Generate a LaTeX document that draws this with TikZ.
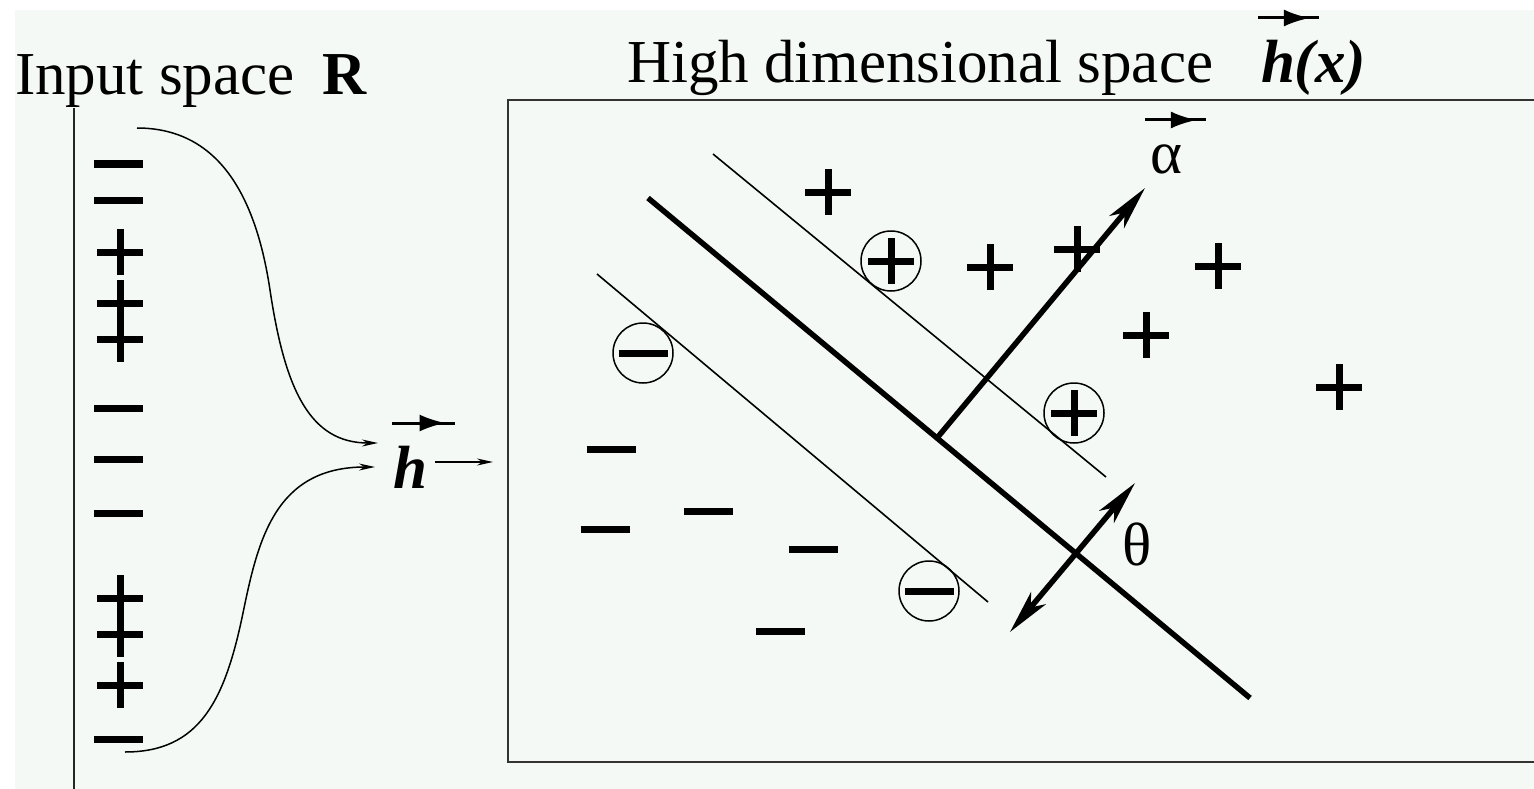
\documentclass[tikz,border=0pt]{standalone}
\usepackage{fontspec}
\setmainfont{Liberation Serif}
\usetikzlibrary{arrows.meta,decorations.markings}
\definecolor{bgc}{HTML}{F4F9F6}
\definecolor{boxc}{HTML}{333333}
\begin{document}
\begin{tikzpicture}[x=1pt,y=-1pt,
  every node/.style={inner sep=0pt, outer sep=0pt, font=\fontsize{61}{70}\selectfont},
  lbl/.style={anchor=base west},
  bar/.style={line width=7pt},
  thinline/.style={line width=1.6pt},
  thickline/.style={line width=5.5pt},
  vecarr/.style={line width=3pt, postaction={decorate},
    decoration={markings, mark=at position 0.85 with {\arrow{Latex[length=26pt,width=17pt]}}}},
  mapcurve/.style={line width=1.5pt, -{Stealth[length=16pt,width=7pt]}},
  plusmark/.pic={\draw[bar] (-23,0)--(23,0) (0,-23)--(0,23);},
  minusmark/.pic={\draw[bar] (-24.5,0)--(24.5,0);},
  ring/.style={draw, circle, minimum size=60pt, line width=1.5pt},
  bigtip/.tip={Stealth[length=44pt,width=19pt,inset=12pt]},
]
\useasboundingbox (0,0) rectangle (1534,789);
\fill[white] (0,0) rectangle (1534,789);
\fill[bgc] (15,10) rectangle (1534,789);

% titles
\node[lbl] (tin) at (15,95) {Input space};
\node[lbl] (tR) at (322,95) {\bfseries R};
\node[lbl] (thigh) at (627,83) {High dimensional space};
\node[lbl] (thx) at (1261,83) {\bfseries\itshape h(x)};
\coordinate (hxa) at (1258,18); \coordinate (hxb) at (1319,18);
\draw[vecarr] (hxa) -- (hxb);

% input axis
\coordinate (axt) at (74,108); \coordinate (axb) at (74,789);
\draw[line width=2.2pt, black!85] (axt) -- (axb);

% input points
\foreach \y in {164,200,408,459,513,739} \pic at (118.5,\y) {minusmark};
\foreach \y in {252,303,339,598,634,685} \pic at (120,\y) {plusmark};

% mapping curves
\coordinate (c1s) at (137,128); \coordinate (c1m) at (270,290); \coordinate (c1e) at (378,443);
\coordinate (c2s) at (125,752); \coordinate (c2m) at (243,613); \coordinate (c2e) at (375,467);
\draw[mapcurve] (c1s) .. controls (215,128) and (255,190) .. (c1m)
  .. controls (285,390) and (310,443) .. (c1e);
\draw[mapcurve] (c2s) .. controls (200,752) and (225,700) .. (c2m)
  .. controls (258,540) and (275,467) .. (c2e);

% h label
\node[lbl] (hlab) at (393,488) {\bfseries\itshape h};
\coordinate (ha) at (392,423); \coordinate (hb) at (455,423);
\draw[vecarr] (ha) -- (hb);
\coordinate (hs) at (435,462); \coordinate (he) at (493,462);
\draw[mapcurve] (hs) -- (he);

% box
\draw[line width=2.2pt, boxc] (1534,100) -- (508,100) -- (508,762) -- (1534,762);

% separating lines
\coordinate (ms) at (648,198); \coordinate (me) at (1250,698);
\draw[thickline] (ms) -- (me);
\coordinate (us) at (713,154); \coordinate (ue) at (1106,477);
\draw[thinline] (us) -- (ue);
\coordinate (ls) at (597,274); \coordinate (le) at (988,602);
\draw[thinline] (ls) -- (le);

% normal vector alpha
\coordinate (foot) at (937,438); \coordinate (atip) at (1145,188);
\draw[thickline, -bigtip] (foot) -- (atip);
\node[lbl] (alab) at (1150,173) {α};
\coordinate (aa) at (1145,120); \coordinate (ab) at (1206,120);
\draw[vecarr] (aa) -- (ab);

% theta arrow
\coordinate (tlo) at (1010,632); \coordinate (thi) at (1135,483);
\draw[thickline, bigtip-bigtip] (tlo) -- (thi);
\node[lbl] (thlab) at (1122,565) {θ};

% circled support vectors
\node[ring] (sv1) at (643,353) {}; \pic at (sv1) {minusmark};
\node[ring] (sv2) at (891,261) {}; \pic at (sv2) {plusmark};
\node[ring] (sv3) at (1074,413) {}; \pic at (sv3) {plusmark};
\node[ring] (sv4) at (929,591) {}; \pic at (sv4) {minusmark};

% free points
\foreach \x/\y in {828/192,990/267,1077/249,1218/266,1146/335,1339/387}
  \pic at (\x,\y) {plusmark};
\foreach \x/\y in {611/449,708/511,605/529,813/549,780/631}
  \pic at (\x,\y) {minusmark};
\end{tikzpicture}
\end{document}
